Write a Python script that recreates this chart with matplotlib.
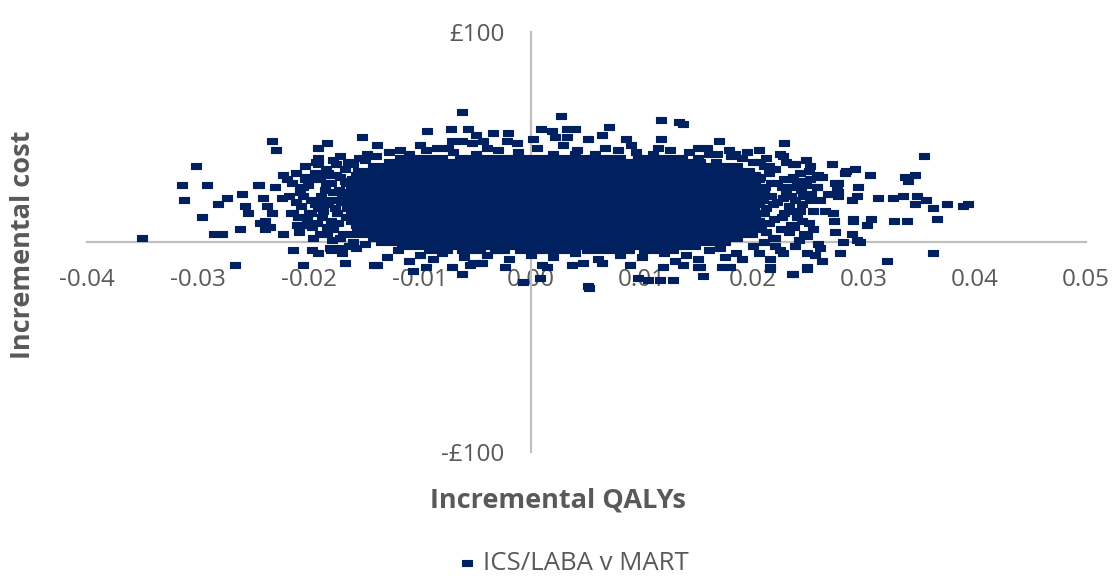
import numpy as np
import matplotlib
matplotlib.use("Agg")
import matplotlib.pyplot as plt

# ---------------- data (QALYs stored in units of 1e-4, cost in GBP) ----------------
core_cost_levels = [40, 38, 36, 34, 32, 30, 28, 26, 24, 22, 20, 18, 16, 14, 12, 10, 8, 6, 4, 2, 0, -2, -4]

core_qaly_rows_e4 = [
    [-118,-112,-105,-96,-88,-80,-64,-56,-48,-41,-32,-24,-16,-9,0,8,16,23,32,40,48,55,64,72,80,96,104,112,119,128,136,150],
    [-128,-121,-112,-104,-96,-89,-80,-72,-64,-57,-48,-40,-32,-25,-16,-8,0,7,16,24,32,39,48,56,64,71,80,88,96,103,112,120,128,135,144,152,167],
    [-142,-134,-127,-118,-110,-102,-95,-86,-78,-70,-63,-54,-46,-38,-31,-22,-14,-6,1,10,18,26,33,42,50,58,65,74,82,90,97,106,114,122,129,138,146,154,161,170,178,186],
    [-156,-148,-140,-133,-124,-116,-108,-101,-92,-84,-76,-69,-60,-52,-44,-37,-28,-20,-12,-5,4,12,20,27,36,44,52,59,68,76,84,91,100,108,116,123,132,140,148,155,164,172,180,187,196],
    [-158,-150,-143,-134,-126,-118,-111,-102,-94,-86,-79,-70,-62,-54,-47,-38,-30,-22,-15,-6,2,10,17,26,34,42,49,58,66,74,81,90,98,106,113,122,130,138,145,154,162,170,177,186,194,202],
    [-161,-154,-146,-138,-131,-122,-114,-106,-99,-90,-82,-74,-67,-58,-50,-42,-35,-26,-18,-10,-3,6,14,22,29,38,46,54,61,70,78,86,93,102,110,118,125,134,142,150,157,166,174,182,189,198,205],
    [-167,-159,-150,-143,-134,-126,-118,-111,-102,-94,-86,-79,-70,-62,-54,-47,-38,-30,-22,-15,-6,2,10,17,26,34,42,49,58,66,74,81,90,98,106,113,122,130,138,145,154,162,170,177,186,194,202],
    [-162,-155,-147,-138,-130,-123,-115,-106,-98,-91,-83,-74,-66,-59,-51,-42,-34,-27,-19,-10,-2,5,13,22,30,37,45,54,62,69,77,86,94,101,109,118,126,133,141,150,158,165,173,182,190,197,205,211],
    [-166,-158,-151,-142,-134,-127,-118,-110,-103,-94,-86,-79,-70,-62,-55,-46,-38,-31,-22,-14,-7,2,10,17,26,34,41,50,58,65,74,82,89,98,106,113,122,130,137,146,154,161,170,178,185,194,202],
    [-170,-163,-154,-146,-139,-130,-122,-115,-106,-98,-91,-82,-74,-67,-58,-50,-43,-34,-26,-19,-10,-2,5,14,22,29,38,46,53,62,70,77,86,94,101,110,118,125,134,142,149,158,166,173,182,190,197,206,211],
    [-167,-159,-150,-142,-135,-126,-119,-110,-102,-95,-86,-78,-71,-62,-55,-46,-38,-31,-22,-15,-6,2,9,18,26,33,42,50,57,66,74,81,90,98,105,114,122,129,138,146,153,162,170,177,186,194,201,209],
    [-162,-155,-146,-138,-131,-122,-114,-107,-98,-90,-83,-74,-66,-59,-50,-42,-35,-26,-18,-11,-2,6,13,22,30,37,46,54,61,70,78,85,94,102,109,118,126,133,142,150,157,166,174,181,190,198,205],
    [-166,-159,-150,-142,-135,-126,-118,-111,-102,-94,-87,-78,-70,-63,-54,-46,-39,-30,-22,-15,-6,2,9,18,26,33,42,50,57,66,74,81,90,98,105,114,122,129,138,146,153,162,170,177,186,194,201],
    [-162,-154,-147,-138,-130,-123,-114,-106,-99,-90,-82,-75,-66,-58,-51,-42,-34,-27,-18,-10,-3,6,14,21,30,38,45,54,62,69,78,86,93,102,110,117,126,134,141,150,158,165,174,182,189,198,205,210],
    [-167,-158,-151,-142,-134,-127,-118,-110,-103,-94,-86,-79,-70,-62,-55,-46,-38,-31,-22,-14,-7,2,10,17,26,34,41,50,58,65,74,82,89,98,106,113,122,130,137,146,154,161,170,178,185,194,202],
    [-162,-154,-146,-139,-130,-122,-115,-106,-98,-91,-82,-74,-67,-58,-50,-43,-34,-26,-19,-10,-2,5,14,22,29,38,46,53,62,70,77,86,94,101,110,118,125,134,142,149,158,166,173,182,190,197,205],
    [-158,-150,-143,-134,-126,-119,-110,-102,-95,-86,-78,-71,-62,-54,-47,-38,-30,-23,-14,-6,1,10,18,25,34,42,49,58,66,73,82,90,97,106,114,121,130,138,145,154,162,169,178,186,193,202,207],
    [-157,-150,-141,-133,-126,-117,-109,-102,-93,-85,-78,-69,-61,-54,-45,-37,-30,-21,-13,-6,3,11,18,27,35,42,51,59,66,75,83,90,99,107,114,123,131,138,147,155,162,171,179,186,195,203],
    [-161,-153,-146,-137,-129,-122,-113,-105,-98,-89,-81,-74,-65,-57,-50,-41,-33,-26,-17,-9,-2,7,15,22,31,39,46,55,63,70,79,87,94,103,111,118,127,135,142,151,159,166,175,183,190,199],
    [-142,-135,-126,-118,-111,-102,-94,-87,-78,-70,-63,-54,-46,-39,-30,-22,-15,-6,2,9,18,26,33,42,50,57,66,74,81,90,98,105,114,122,129,138,146,153,162,170,177,186],
    [-135,-127,-120,-111,-103,-96,-87,-79,-72,-63,-55,-48,-39,-31,-24,-15,-7,0,9,17,24,33,41,48,57,65,72,81,89,96,105,113,120,129,137,144,153,161,168,175],
    [-116,-108,-101,-92,-84,-77,-68,-60,-53,-44,-36,-29,-20,-12,-5,4,12,19,28,36,43,52,60,67,76,84,91,100,108,115,124,132,139,148],
    [-92,-84,-76,-62,-54,-46,-32,-24,-10,-2,6,20,28,36,50,58,66,80,88,102,110,118,128],
]

outer_qaly_e4 = [
    # far left and left scatter
    -350,-302,-314,-313,-292,-296,-286,-278,-267,-282,-274,-260,-258,-255,-262,-245,-241,-244,-240,-233,
    -230,-231,-238,-233,-223,-220,-224,-223,-214,-205,-204,-208,-214,-206,-197,-192,-195,-192,-184,-192,
    -192,-181,-172,-168,-152,-178,-172,-141,-139,-246,-235,-211,-197,-184,-208,-240,
    # left fringe
    -215,-205,-198,-192,-186,-180,-176,-172,-210,-200,-190,-183,-195,-178,-205,-188,-212,-175,-168,-160,
    -150,-172,-160,-150,-185,-178,-200,-183,
    -218,-216,-212,-209,-207,-204,-202,-201,-198,-196,-194,-193,-190,-189,-187,-185,-184,-182,-180,-179,
    -177,-176,-174,-173,-171,-169,-168,-167,-165,-164,-180,-170,-158,-155,-148,-190,-186,-203,-198,-176,
    # top edge
    -62,27,-94,-72,-57,-50,-34,-21,9,19,32,40,22,32,70,64,51,67,86,117,
    133,117,114,2,-71,-62,-53,-43,-22,-13,-85,-75,29,41,137,169,159,168,184,-128,
    -110,-95,-70,-50,-30,-12,5,20,40,58,78,95,110,125,142,160,-140,-118,-100,-40,
    90,150,
    # bottom edge
    -139,-106,-95,-62,-48,-55,-7,14,51,47,89,119,128,152,155,172,8,52,96,105,
    116,-52,-44,-71,-23,10,37,64,-120,-100,-80,-60,-40,-20,0,20,40,60,80,100,
    120,140,160,-130,-110,-88,-30,10,70,130,150,175,
    # right scatter
    228,205,224,227,354,248,271,238,251,250,292,284,305,259,262,337,346,340,235,242,
    277,295,258,313,326,335,348,356,294,289,276,277,346,362,375,389,394,290,290,306,
    303,327,339,366,273,274,289,294,296,281,259,362,278,321,262,249,235,215,206,214,
    236,283,274,277,265,272,254,249,236,249,137,179,150,215,227,260,249,241,268,251,
    258,
    # right fringe
    214,222,230,238,218,226,234,242,212,220,228,240,216,232,244,210,200,190,180,170,
    185,200,210,225,233,245,220,
    206,208,210,212,214,216,218,220,222,224,226,228,230,232,234,236,238,240,242,244,
    246,248,250,252,254,256,258,260,205,215,190,195,178,212,219,227,235,243,251,237,
]

outer_cost = [
    2,36,27,20,27,12,4,4,-11,18,21,23,17,14,6,27,21,9,6,48,
    44,26,17,14,32,30,21,4,-4,-11,30,25,14,8,-4,-5,33,45,47,40,
    37,-3,-3,-10,50,39,41,-11,46,27,7,8,7,4,24,10,
    28,22,30,16,25,10,20,31,12,8,4,33,18,6,26,12,19,14,35,37,
    39,2,0,-1,28,24,14,18,
    22,14,33,5,17,36,11,27,20,2,38,9,30,22,15,35,7,20,28,1,
    16,37,9,25,19,4,29,12,38,-2,-4,-5,-3,40,42,19,32,31,14,32,
    62,60,53,54,54,51,52,52,54,53,54,54,50,50,55,51,49,45,49,58,
    57,49,45,49,48,48,47,48,48,47,45,45,46,44,56,48,45,42,42,43,
    42,44,43,42,44,43,45,42,42,42,44,43,42,44,43,42,41,44,46,45,
    46,45,
    -11,-14,-12,-15,-10,-11,-19,-12,-21,-10,-11,-12,-18,-12,-16,-12,-17,-22,-17,-18,
    -18,-10,-10,-12,-12,-11,-11,-10,-4,-6,-5,-7,-6,-8,-6,-7,-5,-8,-6,-7,
    -5,-6,-4,-7,-9,-8,-4,-4,-4,-9,-8,-7,
    47,44,42,41,41,39,37,37,36,34,35,34,32,32,31,31,32,29,30,29,
    28,26,26,21,21,22,22,20,22,20,25,22,18,16,18,17,18,11,10,11,
    8,10,10,11,10,5,4,1,0,0,-1,-5,-5,-9,-9,-13,-15,-13,38,36,
    37,33,28,24,15,14,6,3,-15,-12,-11,-12,-12,-12,-5,-3,-5,1,23,20,
    26,
    33,28,24,20,18,12,8,15,5,2,30,27,22,17,10,36,38,40,41,-3,
    -5,-2,0,6,26,22,-2,
    31,14,24,40,9,28,2,35,19,-4,26,14,38,5,22,31,-2,12,33,18,
    4,27,9,23,15,-6,31,20,-5,-8,-8,43,44,16,11,21,15,25,30,7,
]

x_ticks = [-0.04, -0.03, -0.02, -0.01, 0.00, 0.01, 0.02, 0.03, 0.04, 0.05]
x_tick_labels = ["-0.04", "-0.03", "-0.02", "-0.01", "0.00", "0.01", "0.02", "0.03", "0.04", "0.05"]
y_ticks = [-100, 100]
y_tick_labels = ["-£100", "£100"]
series_name = "ICS/LABA v MART"
x_title = "Incremental QALYs"
y_title = "Incremental cost"

# ---------------- assemble ----------------
qaly = np.concatenate([np.array(r, dtype=float) * 1e-4 for r in core_qaly_rows_e4]
                      + [np.array(outer_qaly_e4, dtype=float) * 1e-4])
cost = np.concatenate([np.full(len(r), c, dtype=float) for r, c in zip(core_qaly_rows_e4, core_cost_levels)]
                      + [np.array(outer_cost, dtype=float)])

# ---------------- plot ----------------
plt.rcParams['font.family'] = ['Open Sans', 'DejaVu Sans']
W, H = 1116, 576
fig = plt.figure(figsize=(W / 100, H / 100), dpi=100)
ax = fig.add_axes([87 / W, 1 - 452 / H, (1086 - 87) / W, (452 - 32) / H])

dash = [(-1, -0.58), (1, -0.58), (1, 0.58), (-1, 0.58), (-1, -0.58)]
navy = '#002060'
grey_txt = '#595959'

sc = ax.scatter(qaly, cost, marker=dash, s=44, c=navy, edgecolors=navy,
                linewidths=0.8, zorder=3)

ax.set_xlim(-0.04, 0.05)
ax.set_ylim(-100, 100)
ax.spines['left'].set_position(('data', 0))
ax.spines['bottom'].set_position(('data', 0))
for s in ['top', 'right']:
    ax.spines[s].set_visible(False)
for s in ['left', 'bottom']:
    ax.spines[s].set_color('#BFBFBF')
    ax.spines[s].set_linewidth(1.6)
    ax.spines[s].set_zorder(2)

ax.set_xticks(x_ticks, x_tick_labels)
ax.set_yticks(y_ticks, y_tick_labels)
ax.tick_params(axis='both', length=0, labelsize=17.5, labelcolor=grey_txt)
ax.tick_params(axis='x', pad=19)
ax.tick_params(axis='y', pad=19)
ax.patch.set_visible(False)

fig.text(23 / W, 1 - 245 / H, y_title, rotation=90, ha='center', va='center',
         fontsize=19.5, fontweight='bold', color=grey_txt)
fig.text(558 / W, 1 - 500 / H, x_title, ha='center', va='center',
         fontsize=19.5, fontweight='bold', color=grey_txt)

fig.legend([sc], [series_name], loc='center', bbox_to_anchor=(574 / W, 1 - 563 / H),
           frameon=False, fontsize=18.5, labelcolor=grey_txt, handlelength=0.6,
           handletextpad=0.3, borderpad=0, borderaxespad=0)

fig.savefig('out.png', dpi=100)
